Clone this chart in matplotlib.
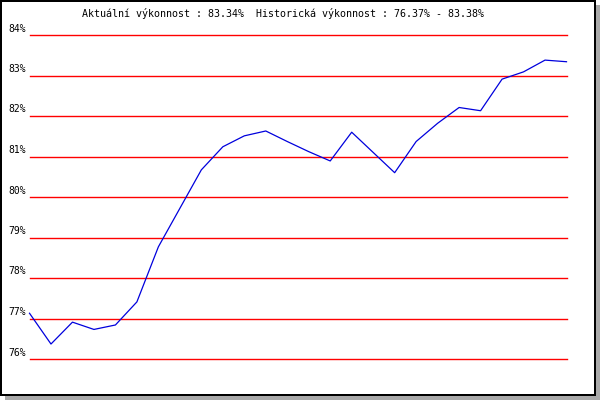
import matplotlib
matplotlib.use("Agg")
import matplotlib.pyplot as plt
from matplotlib.patches import Rectangle
from matplotlib import transforms

# Data
values = [77.13, 76.37, 76.91, 76.73, 76.84, 77.41, 78.77, 79.72, 80.67, 81.24,
          81.51, 81.63, 81.37, 81.12, 80.89, 81.60, 81.10, 80.60, 81.37, 81.82,
          82.21, 82.13, 82.91, 83.09, 83.38, 83.34]
grid_levels = [76, 77, 78, 79, 80, 81, 82, 83, 84]
tick_labels = ["76%", "77%", "78%", "79%", "80%", "81%", "82%", "83%", "84%"]
title = "Aktuální výkonnost : 83.34%  Historická výkonnost : 76.37% - 83.38%"

W, H = 600, 400
fig = plt.figure(figsize=(W / 100, H / 100), dpi=100, facecolor="white")

def px_rect(x0, y0_td, x1, y1_td, color):
    # rectangle in top-down pixel coordinates
    fig.patches.append(Rectangle((x0 / W, 1 - y1_td / H), (x1 - x0) / W, (y1_td - y0_td) / H,
                                 transform=fig.transFigure, facecolor=color,
                                 edgecolor="none", zorder=-10))

# shadow, black frame, white interior
px_rect(5, 5, 600, 400, "#a9a9a9")
px_rect(0, 0, 596, 396, "black")
px_rect(2, 2, 594, 394, "white")

left_px, right_px = 29.5, 566.5
top_td, bot_td = 35, 359
ax = fig.add_axes([left_px / W, 1 - bot_td / H, (right_px - left_px) / W, (bot_td - top_td) / H])
ax.set_facecolor("none")
ax.set_xlim(0, len(values) - 1)
ax.set_ylim(76, 84)
for s in ax.spines.values():
    s.set_visible(False)
ax.set_xticks([])
ax.set_yticks([])

for lv in grid_levels:
    ax.axhline(lv, color="#ff0000", lw=1.0, zorder=1, clip_on=False)

ax.plot(range(len(values)), values, color="#0000dd", lw=0.9, zorder=3, clip_on=False)

mono = "DejaVu Sans Mono"
trans = transforms.blended_transform_factory(fig.transFigure, ax.transData)
trans = transforms.offset_copy(trans, fig=fig, x=0, y=6.5, units="dots")
for lv, lab in zip(grid_levels, tick_labels):
    fig.text(26 / W, lv, lab, transform=trans, ha="right", va="center",
             family=mono, fontsize=7, color="black")

fig.text(283 / W, 1 - 13.7 / H, title, ha="center", va="center",
         family=mono, fontsize=7.2, color="black")

fig.savefig("out.png", dpi=100, facecolor="white")
